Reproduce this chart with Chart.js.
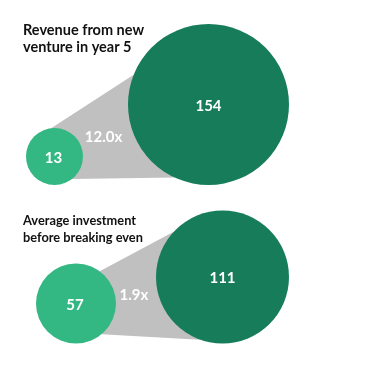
<!DOCTYPE html>
<html>
<head>
<meta charset="utf-8">
<script src="https://cdn.jsdelivr.net/npm/chart.js@4.4.1/dist/chart.umd.min.js"></script>
<style>
  html, body { margin: 0; padding: 0; background: #fff; }
  canvas { display: block; }
</style>
</head>
<body>
<canvas id="chart" width="377" height="383"></canvas>
<script>
  // values
  const groupTitles = [
    ["Revenue from new", "venture in year 5"],
    ["Average investment", "before breaking even"]
  ];
  const beforeValues = [13, 57];
  const afterValues = [154, 111];
  const multipleLabels = ["12.0x", "1.9x"];

  // layout / style (pixels)
  const W = 377, H = 383;
  const radii = [[28.5, 80.5], [40, 66.5]];
  const bottoms = [185, 343.5];
  const rightEdge = 289;
  const gaps = [45, 40];
  // wedge edge anchors as fractions of radius: [smallTop, bigTop, bigBottom, smallBottom]
  const wedge = [[1.07, 0.97, 0.9, 0.8], [0.49, 1.07, 0.96, 0.735]];
  const titlePos = [{ x: 23, y: 35, size: 14.5, lh: 17.3 }, { x: 23, y: 225, size: 12.8, lh: 16.7 }];
  const lightGreen = "#34b883";
  const darkGreen = "#167c59";
  const grey = "#c0c0c0";
  const FONT = "Lato, 'Noto Sans', sans-serif";

  function centers(i) {
    const [rs, rb] = radii[i];
    const bx = rightEdge - rb;
    const sx = bx - rb - gaps[i] - rs;
    return { small: { x: sx, y: bottoms[i] - rs, r: rs }, big: { x: bx, y: bottoms[i] - rb, r: rb } };
  }

  const smallPts = beforeValues.map((v, i) => ({ ...centers(i).small, v }));
  const bigPts = afterValues.map((v, i) => ({ ...centers(i).big, v }));

  // where segment a->b crosses circle c (first = entry, else exit)
  function cross(a, b, c, r, first) {
    const dx = b.x - a.x, dy = b.y - a.y;
    const fx = a.x - c.x, fy = a.y - c.y;
    const A = dx * dx + dy * dy, B = 2 * (fx * dx + fy * dy), C = fx * fx + fy * fy - r * r;
    const d = B * B - 4 * A * C;
    if (d < 0) return null;
    const t = (-B + (first ? -1 : 1) * Math.sqrt(d)) / (2 * A);
    return { x: a.x + t * dx, y: a.y + t * dy };
  }

  function edges(el, big, f) {
    const rs = el.options.radius, rb = big.options.radius;
    const a1 = { x: el.x, y: el.y - f[0] * rs }, b1 = { x: big.x, y: big.y - f[1] * rb };
    const a2 = { x: el.x, y: el.y + f[3] * rs }, b2 = { x: big.x, y: big.y + f[2] * rb };
    return { a1, b1, a2, b2, rs, rb };
  }

  const wedgePlugin = {
    id: "wedge",
    beforeDatasetsDraw(chart) {
      const ctx = chart.ctx;
      const s = chart.getDatasetMeta(0).data, b = chart.getDatasetMeta(1).data;
      ctx.save();
      ctx.fillStyle = grey;
      s.forEach((el, i) => {
        const big = b[i];
        const e = edges(el, big, wedge[i]);
        const pts = [
          cross(e.a1, e.b1, el, e.rs, false) || e.a1,
          cross(e.a1, e.b1, big, e.rb, true) || e.b1,
          { x: big.x, y: big.y },
          cross(e.a2, e.b2, big, e.rb, true) || e.b2,
          cross(e.a2, e.b2, el, e.rs, false) || e.a2,
          { x: el.x, y: el.y }
        ];
        ctx.beginPath();
        pts.forEach((p, k) => (k ? ctx.lineTo(p.x, p.y) : ctx.moveTo(p.x, p.y)));
        ctx.closePath();
        ctx.fill();
      });
      ctx.restore();
    },
    afterDatasetsDraw(chart) {
      const ctx = chart.ctx;
      const s = chart.getDatasetMeta(0).data, b = chart.getDatasetMeta(1).data;
      ctx.save();
      ctx.fillStyle = "#fff";
      ctx.textAlign = "center";
      ctx.textBaseline = "middle";
      ctx.font = "bold 15px " + FONT;
      s.forEach((el, i) => {
        const big = b[i];
        ctx.fillText(String(beforeValues[i]), el.x - 1, el.y + 1.5);
        ctx.fillText(String(afterValues[i]), big.x, big.y + 1.5);
        // multiple label: between the circles, mid-height of the wedge
        const e = edges(el, big, wedge[i]);
        const lx = ((el.x + e.rs) + (big.x - e.rb)) / 2;
        const t = (lx - el.x) / (big.x - el.x);
        const topY = e.a1.y + t * (e.b1.y - e.a1.y);
        const botY = e.a2.y + t * (e.b2.y - e.a2.y);
        ctx.fillText(multipleLabels[i], lx - 2, (topY + botY) / 2 + 1.5);
      });
      // titles
      ctx.fillStyle = "#111";
      ctx.textAlign = "left";
      ctx.textBaseline = "alphabetic";
      groupTitles.forEach((lines, i) => {
        const p = titlePos[i];
        ctx.font = "bold " + p.size + "px " + FONT;
        lines.forEach((ln, k) => ctx.fillText(ln, p.x, p.y + k * p.lh));
      });
      ctx.restore();
    }
  };

  new Chart(document.getElementById("chart"), {
    type: "bubble",
    data: {
      datasets: [
        { label: "Before", data: smallPts, backgroundColor: lightGreen, borderWidth: 0, clip: false },
        { label: "After", data: bigPts, backgroundColor: darkGreen, borderWidth: 0, clip: false }
      ]
    },
    options: {
      responsive: false,
      animation: false,
      events: [],
      layout: { padding: 0, autoPadding: false },
      scales: {
        x: { type: "linear", min: 0, max: W, display: false },
        y: { type: "linear", min: 0, max: H, reverse: true, display: false }
      },
      plugins: { legend: { display: false }, tooltip: { enabled: false } }
    },
    plugins: [wedgePlugin]
  });
</script>
</body>
</html>
